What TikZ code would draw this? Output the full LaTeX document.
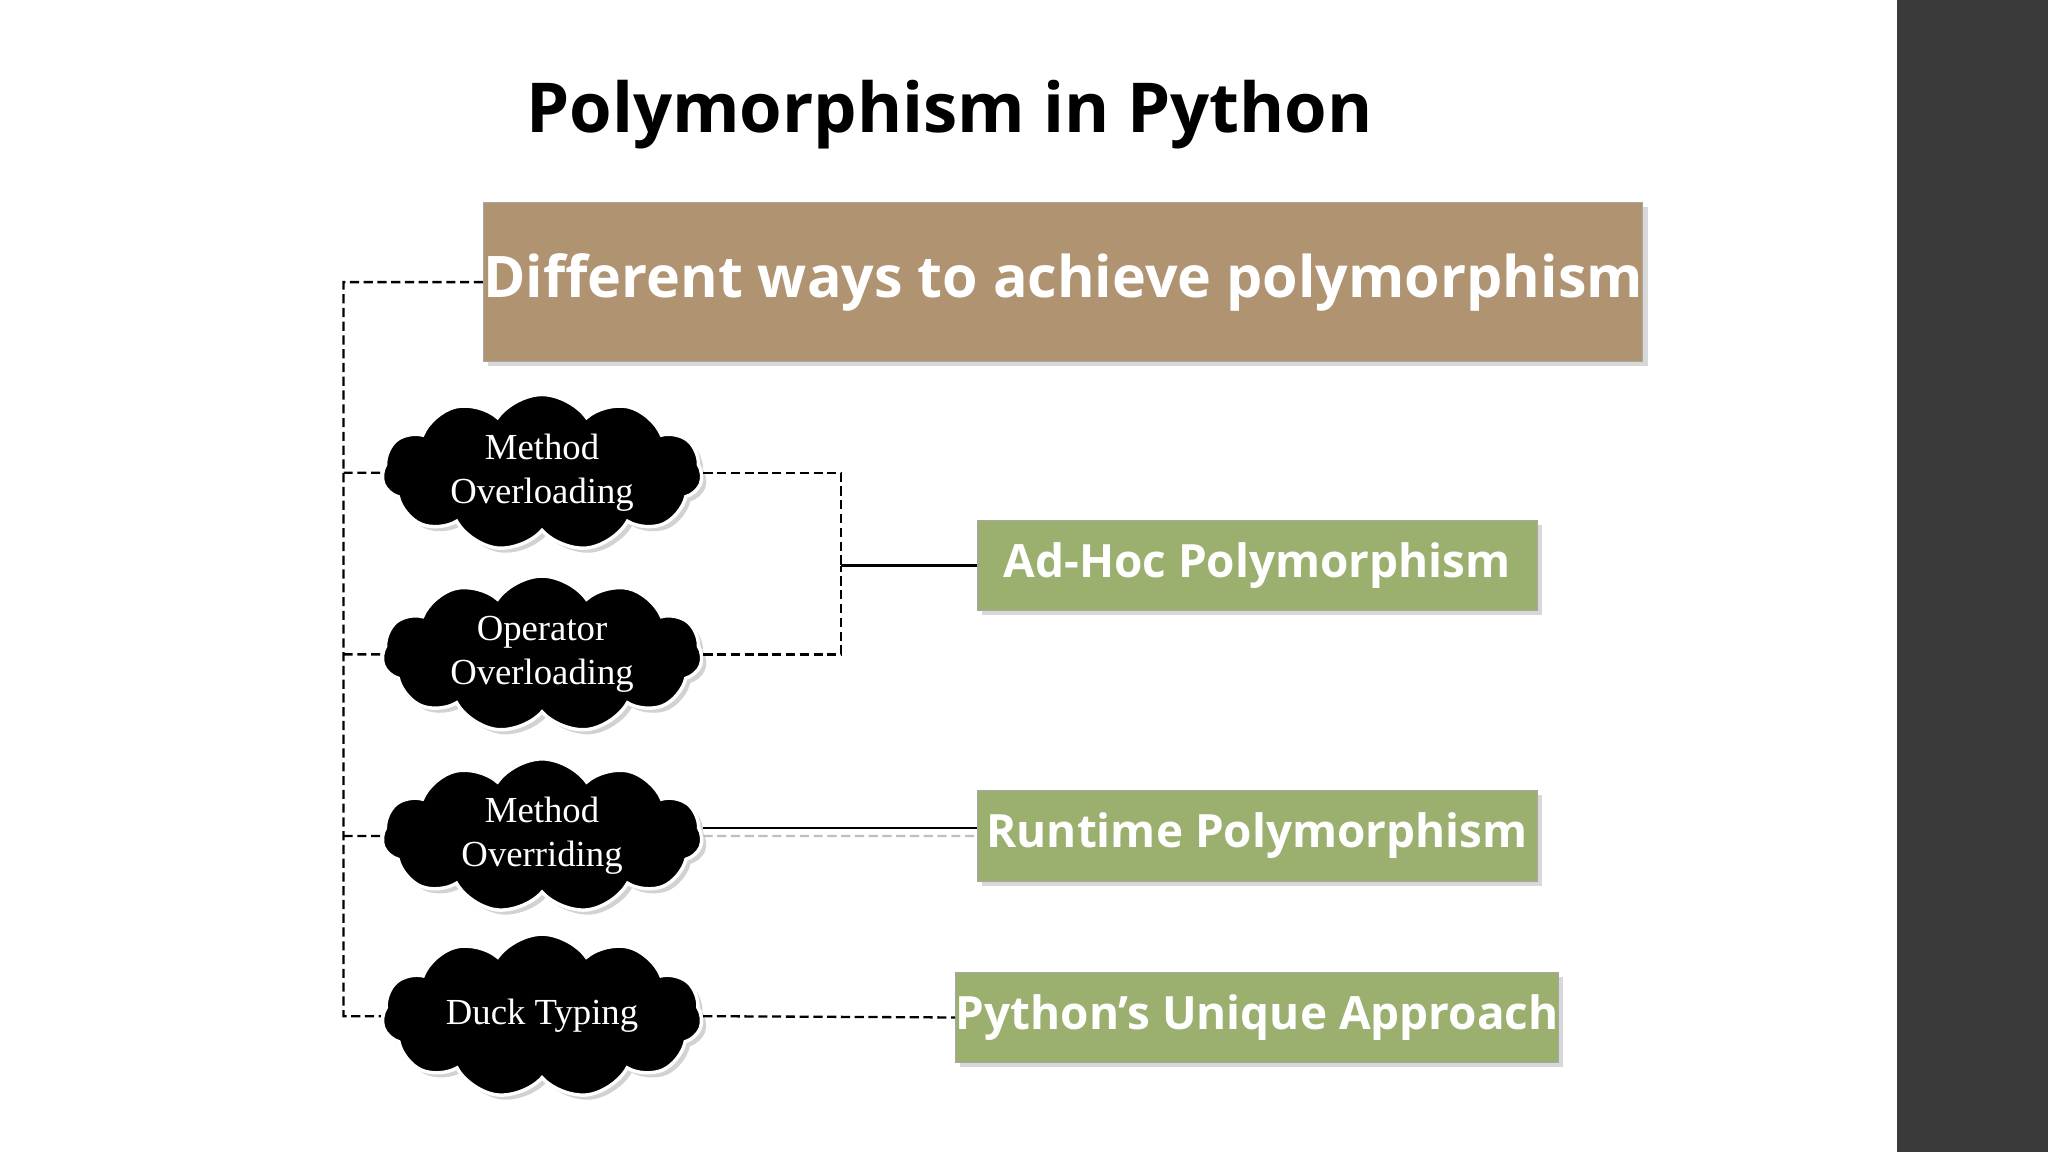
\documentclass[tikz,border=0pt]{standalone}
\usepackage{fontspec}
\setmainfont{Liberation Serif}
\newfontfamily\hsans{Open Sans}
\usetikzlibrary{shapes.symbols,shadows}
\definecolor{brownbox}{HTML}{B09370}
\definecolor{greenbox}{HTML}{9BAF6E}
\definecolor{darkbar}{HTML}{3A3A3B}
\tikzset{
  gbox/.style={draw=gray!70, fill=greenbox, minimum width=429*0.02cm, minimum height=69*0.02cm, inner sep=0pt,
     font=\hsans\bfseries\fontsize{20}{24}\selectfont, text=white, drop shadow={shadow xshift=2pt,shadow yshift=-2pt,opacity=0.3}},
  cl/.style={cloud, cloud puffs=11, cloud puff arc=110, aspect=2.1, fill=black, draw=white, line width=1.5pt,
     minimum width=245*0.02cm, minimum height=118*0.02cm, inner sep=0pt, text=white, align=center,
     font=\fontsize{16}{19}\selectfont, drop shadow={shadow xshift=2pt,shadow yshift=-2pt,opacity=0.35}},
  dl/.style={dashed, line width=1pt, dash pattern=on 4pt off 2pt},
  sl/.style={line width=1.2pt}
}
\begin{document}
\begin{tikzpicture}[x=0.02cm,y=-0.02cm]
\useasboundingbox (0,0) rectangle (1568,882);
\fill[white] (0,0) rectangle (1452,882);
\fill[darkbar] (1452,0) rectangle (1568,882);
\node[font=\hsans\bfseries\fontsize{30}{36}\selectfont] (title) at (727,88) {Polymorphism in Python};
\node[draw=gray!70, fill=brownbox, minimum width=798*0.02cm, minimum height=122*0.02cm, inner sep=0pt,
  font=\hsans\bfseries\fontsize{25}{30}\selectfont, text=white,
  drop shadow={shadow xshift=2pt,shadow yshift=-2pt,opacity=0.3}] (main) at (814,216) {Different ways to achieve polymorphism};
\node[gbox] (adhoc) at (962.5,433) {Ad-Hoc Polymorphism};
\node[gbox] (run) at (962.5,640) {Runtime Polymorphism};
\node[gbox] (py) at (962.5,779) {Python’s Unique Approach};
\node[cl] (c1) at (415,362) {Method\\Overloading};
\node[cl] (c2) at (415,501) {Operator\\Overloading};
\node[cl] (c3) at (415,640) {Method\\Overriding};
\node[cl] (c4) at (415,778) {Duck Typing};
\coordinate (L0) at (263,216);
\coordinate (L4) at (263,778);
\coordinate (M) at (644,433);
\begin{scope}[on background layer/.try]
\draw[dl] (main.west) -- (L0) -- (L4) -- (c4.west);
\draw[dl] (263,362) -- (c1.west);
\draw[dl] (263,501) -- (c2.west);
\draw[dl] (263,640) -- (c3.west);
\draw[dl] (c1.east) -| (M);
\draw[dl] (c2.east) -| (M);
\draw[sl] (M) -- (adhoc.west);
\draw[sl] (c3.east |- 0,634) -- (run.west |- 0,634);
\draw[dl, gray!50] (c3.east) -- (run.west);
\draw[dl] (c4.east) -- (py.west);
\end{scope}
\end{tikzpicture}
\end{document}
